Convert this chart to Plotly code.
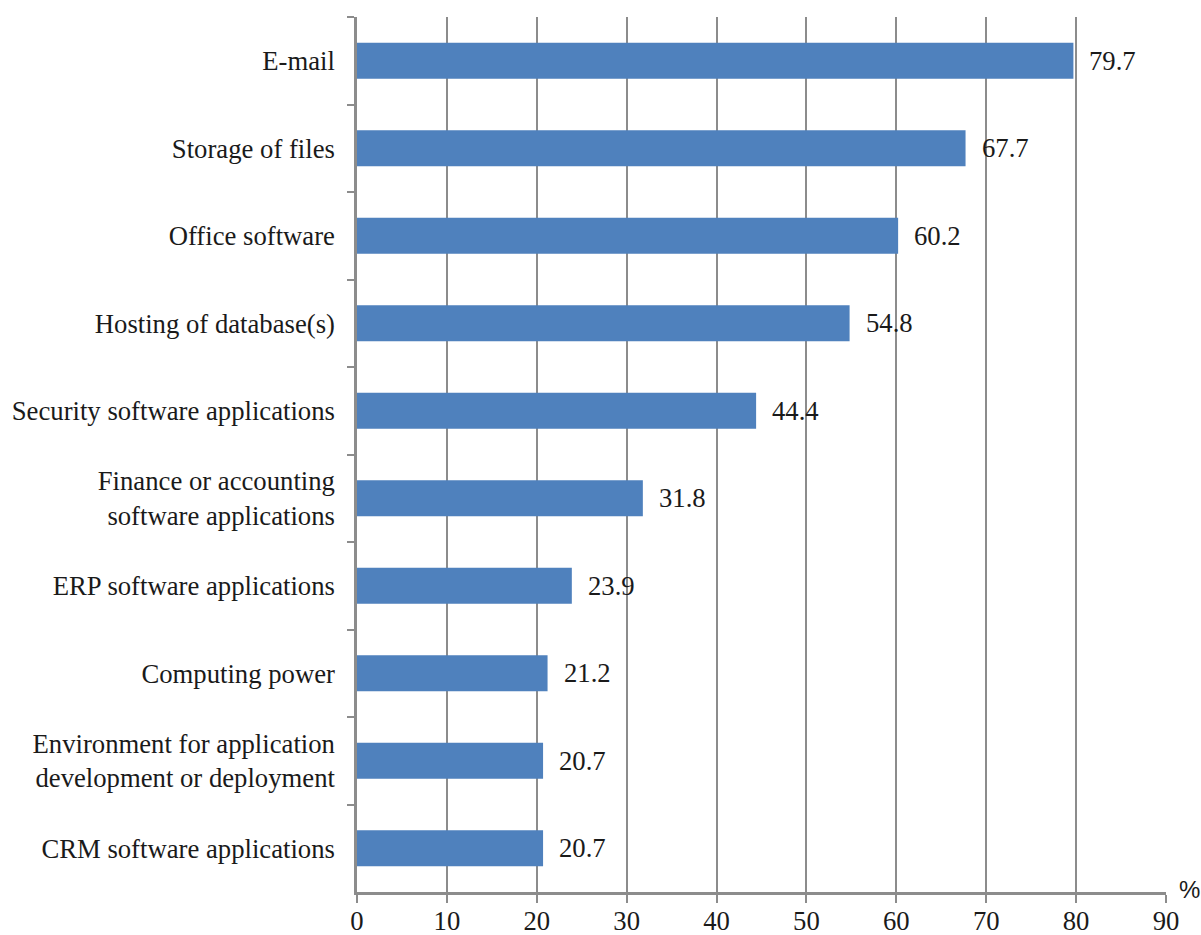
import plotly.graph_objects as go

# Cloud service usage by purpose (%), top to bottom
categories = [
    "E-mail",
    "Storage of files",
    "Office software",
    "Hosting of database(s)",
    "Security software applications",
    "Finance or accounting<br>software applications",
    "ERP software applications",
    "Computing power",
    "Environment for application<br>development or deployment",
    "CRM software applications",
]
values = [79.7, 67.7, 60.2, 54.8, 44.4, 31.8, 23.9, 21.2, 20.7, 20.7]
x_ticks = [0, 10, 20, 30, 40, 50, 60, 70, 80, 90]

BAR = "#4F81BD"
GRAY = "#8C8C8C"
SERIF = "Liberation Serif, Tinos, Times New Roman, DejaVu Serif, serif"
TEXT = "#1a1a1a"
FS = 26.7

fig = go.Figure(
    go.Bar(
        x=values,
        y=categories,
        orientation="h",
        width=0.41,
        marker=dict(color=BAR, line=dict(width=0)),
        hoverinfo="skip",
    )
)

# value labels to the right of each bar
for cat, v in zip(categories, values):
    fig.add_annotation(
        x=v, y=cat, text=f"{v:.1f}", showarrow=False,
        xanchor="left", yanchor="middle", xshift=14,
        font=dict(family=SERIF, size=FS, color=TEXT),
    )

# unit marker at the end of the value axis
fig.add_annotation(
    xref="paper", yref="paper", x=1, y=0, text="%", showarrow=False,
    xanchor="left", yanchor="middle", xshift=11, yshift=3,
    font=dict(family="Liberation Sans, Arial, sans-serif", size=24, color=TEXT),
)

fig.update_layout(
    width=1201,
    height=935,
    margin=dict(l=357, r=35, t=17, b=43, autoexpand=False),
    paper_bgcolor="white",
    plot_bgcolor="white",
    showlegend=False,
    font=dict(family=SERIF, size=FS, color=TEXT),
    xaxis=dict(
        range=[0, 90],
        tickvals=x_ticks,
        ticktext=[str(t) for t in x_ticks],
        showgrid=True, gridcolor=GRAY, gridwidth=2,
        showline=True, linecolor=GRAY, linewidth=2.5,
        ticks="outside", ticklen=8, tickwidth=2, tickcolor=GRAY,
        ticklabelstandoff=-5,
        zeroline=False, automargin=False,
        tickfont=dict(family=SERIF, size=FS, color=TEXT),
    ),
    yaxis=dict(
        autorange="reversed",
        showgrid=False,
        showline=True, linecolor=GRAY, linewidth=2.5,
        ticks="outside", tickson="boundaries", ticklen=7, tickwidth=2, tickcolor=GRAY,
        ticklabelstandoff=14, automargin=False,
        tickfont=dict(family=SERIF, size=FS, color=TEXT),
    ),
)

fig.write_html("out.html")
